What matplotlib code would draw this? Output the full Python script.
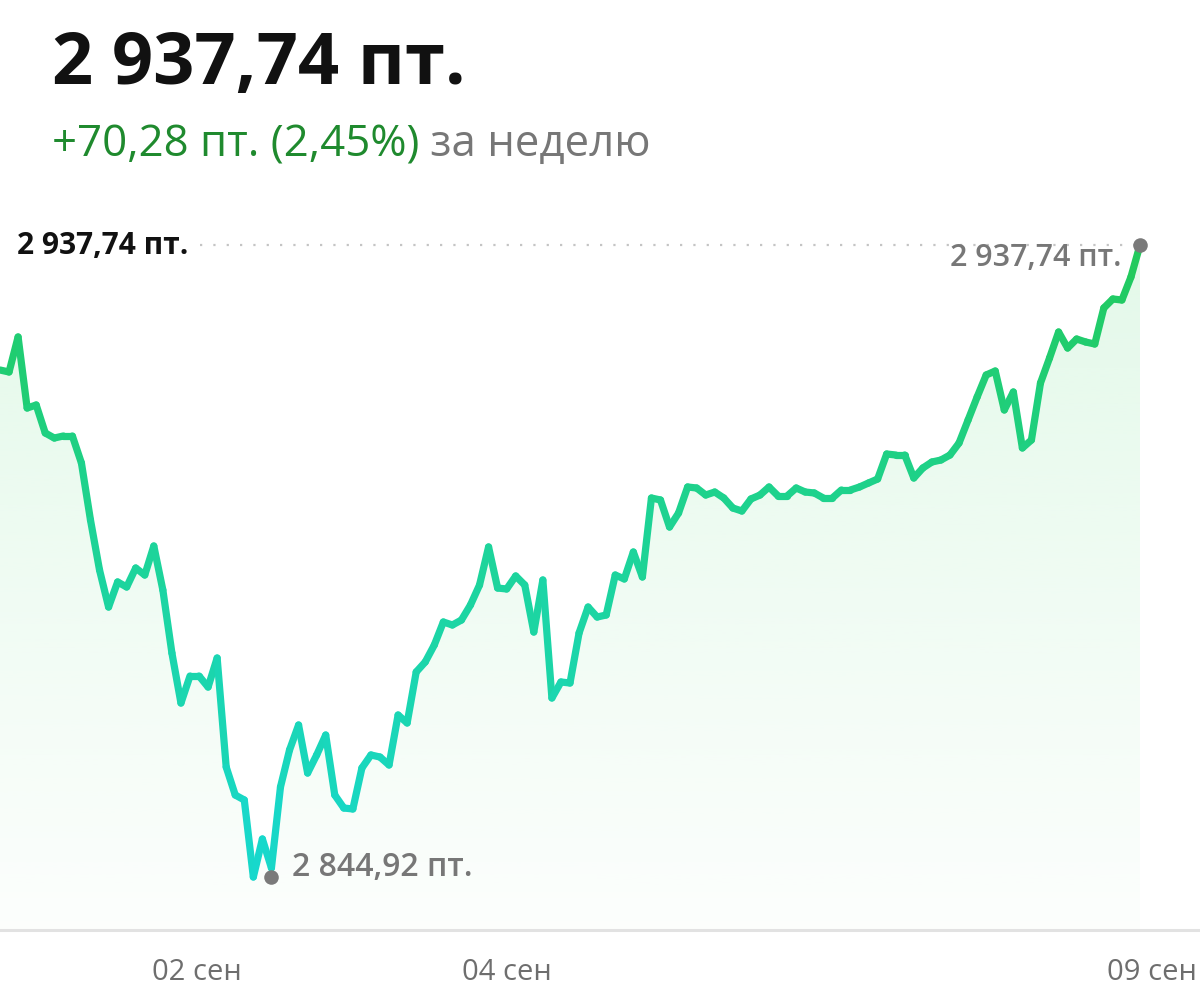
import numpy as np
import matplotlib
matplotlib.use("Agg")
import matplotlib.pyplot as plt
from matplotlib.collections import LineCollection
from matplotlib.colors import LinearSegmentedColormap, to_rgb

# ---- DATA (index points, values in пт.)
values = [2919.38, 2919.09, 2924.23, 2913.80, 2914.24, 2910.13, 2909.39, 2909.69, 2909.69, 2905.72,
          2897.35, 2890.01, 2884.57, 2888.25, 2887.51, 2890.30, 2889.27, 2893.53, 2887.07, 2877.82,
          2870.47, 2874.44, 2874.44, 2872.82, 2877.08, 2861.07, 2856.96, 2856.23, 2844.92, 2850.50,
          2846.24, 2858.14, 2863.57, 2867.24, 2860.19, 2862.84, 2865.77, 2856.96, 2855.05, 2854.91,
          2860.93, 2862.84, 2862.54, 2861.37, 2868.71, 2867.54, 2875.03, 2876.50, 2878.99, 2882.37,
          2881.93, 2882.66, 2884.87, 2887.80, 2893.39, 2887.36, 2887.22, 2889.13, 2887.80, 2880.90,
          2888.54, 2871.21, 2873.56, 2873.41, 2880.75, 2884.57, 2883.10, 2883.40, 2889.27, 2888.69,
          2892.65, 2888.98, 2900.58, 2900.29, 2896.32, 2898.38, 2902.20, 2902.05, 2901.02, 2901.46,
          2900.58, 2899.11, 2898.67, 2900.44, 2901.02, 2902.20, 2900.88, 2900.88, 2902.05, 2901.46,
          2901.32, 2900.58, 2900.58, 2901.76, 2901.76, 2902.20, 2902.79, 2903.37, 2907.04, 2906.90,
          2906.90, 2903.52, 2904.99, 2905.87, 2906.16, 2906.90, 2908.66, 2912.04, 2915.42, 2918.65,
          2919.23, 2913.51, 2916.15, 2907.93, 2909.10, 2917.47, 2921.14, 2924.96, 2922.61, 2923.93,
          2923.49, 2923.20, 2928.49, 2929.81, 2929.66, 2933.04, 2937.74]
low_idx    = 30          # where the low label/marker sits
low_value  = 2844.92
last_value = 2937.74

tick_idx    = [21.8, 56.0]
tick_labels = ["02 сен", "04 сен"]
end_label   = "09 сен"

title_txt  = "2 937,74 пт."
change_txt = "+70,28 пт. (2,45%)"
period_txt = " за неделю"

def fmt(v):
    s = "%.2f" % v
    a, b = s.split(".")
    return a[:-3] + " " + a[-3:] + "," + b + " пт."

# ---- FIGURE
W, H = 1200, 996
fig = plt.figure(figsize=(W / 100, H / 100), dpi=100)
fig.patch.set_facecolor("white")
FONT = "Open Sans"

y_bot_px, y_top_px = 930, 200
ax = fig.add_axes([0, 1 - y_bot_px / H, 1, (y_bot_px - y_top_px) / H])
ax.set_axis_off()

x = np.arange(len(values))
y = np.array(values)
N = len(values)

ppp = (877 - 245) / (last_value - low_value)   # pixels per point
ax.set_ylim(low_value - (y_bot_px - 877) / ppp, last_value + (245 - y_top_px) / ppp)
ax.set_xlim(0, (N - 1) * W / 1140)

# gradient fill under the line
poly = ax.fill_between(x, y, ax.get_ylim()[0], color="none", lw=0)
grad = np.linspace(0, 1, 256).reshape(-1, 1)
rgba = np.zeros((256, 1, 4))
rgba[:, :, :3] = to_rgb("#c8f3d4")
rgba[:, :, 3] = 0.05 + 0.45 * grad
img = ax.imshow(rgba, aspect="auto", origin="lower",
                extent=[0, x[-1], ax.get_ylim()[0], max(values)], zorder=1)
img.set_clip_path(poly.get_paths()[0], transform=ax.transData)

# gradient line
cmap = LinearSegmentedColormap.from_list("g", ["#17d8cf", "#1dd49a", "#22c95a"])
pts = np.column_stack([x, y]).reshape(-1, 1, 2)
segs = np.concatenate([pts[:-1], pts[1:]], axis=1)
mid = (y[:-1] + y[1:]) / 2
norm = (mid - min(values)) / (max(values) - min(values))
lc = LineCollection(segs, colors=cmap(norm), linewidths=5.2, capstyle="round",
                    joinstyle="round", zorder=3)
ax.add_collection(lc)

# dotted reference line at last value
ax.plot([200 / 1140 * (N - 1), x[-1]], [last_value, last_value], color="#c4c4c4",
        lw=1.6, dashes=(1, 5), zorder=2)

# markers
ax.scatter([x[-1]], [last_value], s=110, color="#7a7a7a", zorder=5, lw=0)
ax.scatter([x[low_idx]], [low_value], s=110, color="#7a7a7a", zorder=5, lw=0)

# ---- TEXTS
def fx(px):
    return px / W

def fy(py):
    return 1 - py / H

fig.text(fx(52), fy(84), title_txt, fontsize=52, fontweight="bold", family=FONT,
         color="#111111", va="baseline")
t1 = fig.text(fx(52), fy(156), change_txt, fontsize=31.5, family=FONT, color="#1f8a2e",
              va="baseline")
fig.canvas.draw()
bb = t1.get_window_extent()
fig.text(bb.x1 / W, fy(156), period_txt, fontsize=31.5, family=FONT, color="#777777",
         va="baseline")

fig.text(fx(17), fy(246), fmt(last_value), fontsize=21.5, fontweight="bold", family=FONT,
         color="#111111", va="center")
fig.text(fx(1122), fy(258), fmt(last_value), fontsize=22, fontweight="semibold", family=FONT,
         color="#777777", va="center", ha="right")
fig.text(fx(292), fy(868), fmt(low_value), fontsize=23, fontweight="semibold", family=FONT,
         color="#777777", va="center")

# bottom axis line and date labels
fig.add_artist(plt.Line2D([0, 1], [fy(930), fy(930)], color="#e2e2e2", lw=2.2))
for ti, lab in zip(tick_idx, tick_labels):
    px = ti / (N - 1) * 1140
    fig.text(fx(px), fy(972), lab, fontsize=21, family=FONT, color="#6e6e6e",
             ha="center", va="center")
fig.text(fx(1197), fy(972), end_label, fontsize=21, family=FONT, color="#6e6e6e",
         ha="right", va="center")

fig.savefig("out.png", dpi=100, facecolor="white")
